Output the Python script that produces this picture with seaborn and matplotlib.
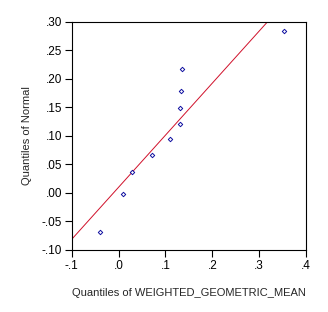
import matplotlib
matplotlib.use("Agg")
import matplotlib.pyplot as plt
import seaborn as sns
import numpy as np
import pandas as pd

# Data
x_quantiles = [-0.040, 0.009, 0.029, 0.072, 0.109, 0.132, 0.132, 0.133, 0.136, 0.353]
normal_quantiles = [-0.068, -0.002, 0.036, 0.067, 0.094, 0.121, 0.148, 0.179, 0.218, 0.283]
line_x = [-0.1, 0.4]
line_slope = 0.912
line_intercept = 0.0099
x_ticks = [-0.1, 0.0, 0.1, 0.2, 0.3, 0.4]
x_ticklabels = ["-.1", ".0", ".1", ".2", ".3", ".4"]
y_ticks = [-0.10, -0.05, 0.00, 0.05, 0.10, 0.15, 0.20, 0.25, 0.30]
y_ticklabels = ["-.10", "-.05", ".00", ".05", ".10", ".15", ".20", ".25", ".30"]

sns.set_theme(style="ticks")
plt.rcParams['font.family'] = ['Liberation Sans', 'DejaVu Sans']

fig = plt.figure(figsize=(3.28, 3.12), dpi=100)
ax = fig.add_axes([71.7/328, 1 - 250/312, (306 - 71.7)/328, (250 - 21.7)/312])

df = pd.DataFrame({"x": x_quantiles, "y": normal_quantiles})
line_y = [line_intercept + line_slope * v for v in line_x]
sns.lineplot(x=line_x, y=line_y, ax=ax, color="#d0102a", linewidth=0.7)
sns.scatterplot(data=df, x="x", y="y", ax=ax, marker="D", s=5,
                facecolor="white", edgecolor="#1010a0", linewidth=0.7, zorder=3)

ax.set_xlim(-0.1, 0.4)
ax.set_ylim(-0.1, 0.3)
ax.set_xticks(x_ticks)
ax.set_xticklabels(x_ticklabels)
ax.set_yticks(y_ticks)
ax.set_yticklabels(y_ticklabels)
ax.tick_params(axis="both", direction="out", length=5, width=0.8, labelsize=8.5,
               colors="black", pad=2)
for s in ax.spines.values():
    s.set_color("black")
    s.set_linewidth(0.8)
ax.set_xlabel("Quantiles of WEIGHTED_GEOMETRIC_MEAN", fontsize=8, labelpad=12)
ax.set_ylabel("Quantiles of Normal", fontsize=8, labelpad=7)

fig.savefig("out.png", dpi=100, facecolor="white")
